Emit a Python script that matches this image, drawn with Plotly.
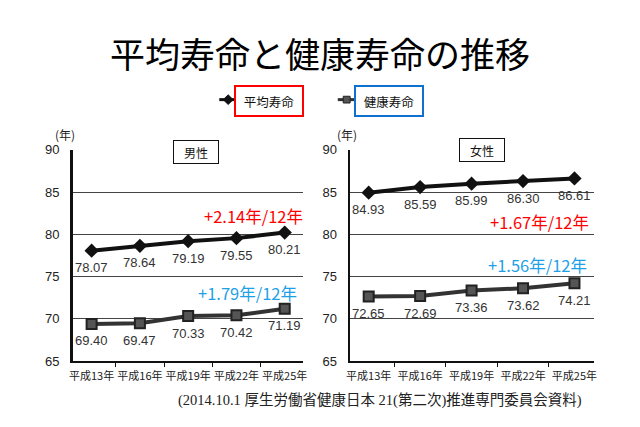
import plotly.graph_objects as go

# ---- data ----
years = ["平成13年", "平成16年", "平成19年", "平成22年", "平成25年"]
male_avg = [78.07, 78.64, 79.19, 79.55, 80.21]
male_healthy = [69.40, 69.47, 70.33, 70.42, 71.19]
female_avg = [84.93, 85.59, 85.99, 86.30, 86.61]
female_healthy = [72.65, 72.69, 73.36, 73.62, 74.21]
series_names = ["平均寿命", "健康寿命"]
gain_labels = ["+2.14年/12年", "+1.79年/12年", "+1.67年/12年", "+1.56年/12年"]
panel_titles = ["男性", "女性"]
y_ticks = [65, 70, 75, 80, 85, 90]

W, H = 640, 427
def px(x):
    return x / W
def py(y):
    return 1 - y / H

CJK = "Noto Sans CJK JP"
NUM = "Liberation Sans, Arial, " + CJK
RED = "#FF0000"
BLUE = "#1EA0E6"

fig = go.Figure()
ann = []

def add_pair(avg, healthy, xa, ya):
    fig.add_trace(go.Scatter(
        x=years, y=avg, xaxis=xa, yaxis=ya, name=series_names[0],
        mode="lines+markers",
        line=dict(color="#111", width=4),
        marker=dict(symbol="diamond", size=11, color="#111"),
        showlegend=False, cliponaxis=False))
    fig.add_trace(go.Scatter(
        x=years, y=healthy, xaxis=xa, yaxis=ya, name=series_names[1],
        mode="lines+markers",
        line=dict(color="#333", width=4),
        marker=dict(symbol="square", size=10, color="#555",
                    line=dict(color="#222", width=2)),
        showlegend=False, cliponaxis=False))
    for series in (avg, healthy):
        for cat, v in zip(years, series):
            ann.append(dict(text=f"{v:.2f}", x=cat, y=v, xref=xa, yref=ya,
                            yshift=-17, showarrow=False,
                            xanchor="center", yanchor="middle",
                            font=dict(family=NUM, size=13, color="#333")))

add_pair(male_avg, male_healthy, "x", "y")
add_pair(female_avg, female_healthy, "x2", "y2")

ydom = [py(367), py(148)]
xcommon = dict(type="category", showgrid=False, showline=True, linecolor="#111",
               linewidth=1.5, ticks="outside", ticklen=4, tickcolor="#111",
               tickson="boundaries", tickangle=0, ticklabelstandoff=4,
               tickfont=dict(family=CJK, size=11, color="#222"),
               fixedrange=True)
ycommon = dict(range=[65, 90], tickvals=y_ticks, showgrid=True,
               gridcolor="#444", gridwidth=1, zeroline=False,
               showline=True, linecolor="#111",
               tickfont=dict(family=NUM, size=13, color="#222"),
               ticklabelstandoff=8, domain=ydom)

fig.update_layout(
    width=W, height=H, margin=dict(l=0, r=0, t=0, b=0),
    paper_bgcolor="white", plot_bgcolor="white",
    xaxis=dict(domain=[px(70), px(303)], anchor="y", **xcommon),
    yaxis=dict(anchor="x", linewidth=3, **ycommon),
    xaxis2=dict(domain=[px(350), px(597)], anchor="y2", **xcommon),
    yaxis2=dict(anchor="x2", linewidth=2, **ycommon),
)

pann = []
# title
pann.append(dict(text="平均寿命と健康寿命の推移", x=px(320), y=py(47),
                 font=dict(family=CJK, size=35, color="black")))
# legend boxes
pann.append(dict(text=series_names[0], x=px(268), y=py(97), width=66, height=28,
                 bordercolor=RED, borderwidth=2, borderpad=0, bgcolor="white",
                 font=dict(family=CJK, size=12.5, color="#111")))
pann.append(dict(text=series_names[1], x=px(390), y=py(97), width=66, height=28,
                 bordercolor="#1070D0", borderwidth=2, borderpad=0, bgcolor="white",
                 font=dict(family=CJK, size=12.5, color="#111")))
# (年)
for xx in (62, 347):
    pann.append(dict(text="(年)", x=px(xx), y=py(132),
                     font=dict(family=CJK, size=12, color="#222")))
# panel titles
for t, xx, yy in zip(panel_titles, (194, 484), (150, 148)):
    pann.append(dict(text=t, x=px(xx), y=py(yy), width=40, height=18,
                     bordercolor="#111", borderwidth=1, borderpad=2, bgcolor="white",
                     font=dict(family=CJK, size=12, color="#111")))
# gains
for t, xx, yy, c in zip(gain_labels, (253, 247, 542, 540), (217, 296, 223, 267),
                        (RED, BLUE, RED, BLUE)):
    pann.append(dict(text=t, x=px(xx), y=py(yy),
                     font=dict(family=CJK, size=16.5, color=c)))
# source
pann.append(dict(text="(2014.10.1 厚生労働省健康日本 21(第二次)推進専門委員会資料)",
                 x=px(381), y=py(408),
                 font=dict(family="Liberation Serif, " + CJK, size=14.5, color="#222")))
for a in pann:
    a.update(xref="paper", yref="paper", showarrow=False,
             xanchor="center", yanchor="middle")
fig.update_layout(annotations=ann + pann)

# legend symbols
def seg(x0, x1, y, color, w):
    return dict(type="line", xref="paper", yref="paper", x0=px(x0), x1=px(x1),
                y0=py(y), y1=py(y), line=dict(color=color, width=w))
shapes = [
    seg(218, 236, 96, "#111", 3),
    dict(type="path", xref="paper", yref="paper",
         path=f"M {px(227)} {py(91)} L {px(232)} {py(96)} L {px(227)} {py(101)} L {px(222)} {py(96)} Z",
         fillcolor="#111", line=dict(color="#111", width=1)),
    seg(338, 355, 96, "#333", 3),
    dict(type="rect", xref="paper", yref="paper", x0=px(343.5), x1=px(350.5),
         y0=py(99.5), y1=py(92.5), fillcolor="#555", line=dict(color="#222", width=1)),
]
fig.update_layout(shapes=shapes)

fig.write_html("out.html")
